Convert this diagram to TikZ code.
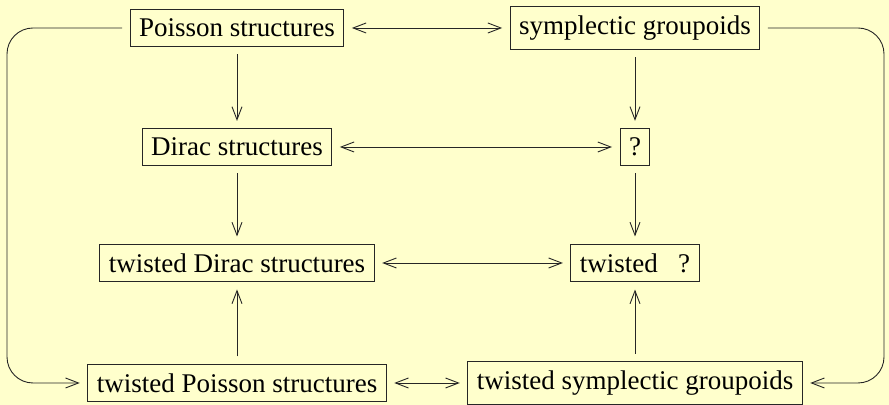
\documentclass[tikz,border=0pt]{standalone}
\usepackage{fontspec}
\setmainfont{Liberation Serif}
\usetikzlibrary{arrows.meta,positioning}
\definecolor{paper}{RGB}{255,255,204}
\tikzset{
  box/.style={draw=black!85, line width=0.5pt, inner sep=4.5pt, outer sep=4pt,
    font=\fontsize{13.5}{16}\selectfont},
  arrow/.style={-{Straight Barb[length=6.5pt,width=5pt]}, line width=0.45pt, draw=black!85},
  biarrow/.style={{Straight Barb[length=6.5pt,width=5pt]}-{Straight Barb[length=6.5pt,width=5pt]},
    line width=0.45pt, draw=black!85},
  rail/.style={arrow, rounded corners=13pt},
}

\begin{document}
\begin{tikzpicture}[x=0.5pt,y=0.5pt]
  \fill[paper] (0,0) rectangle (889,405);
  \useasboundingbox (0,0) rectangle (889,405);

  % left column
  \node[box] (poi)  at (237,377) {Poisson structures};
  \node[box] (dir)  at (237,258) {Dirac structures};
  \node[box] (tdir) at (237,142) {twisted Dirac structures};
  \node[box] (tpoi) at (237,22)  {twisted Poisson structures};

  % right column
  \node[box] (sgr)  at (635,377) {symplectic groupoids};
  \node[box] (unk)  at (635,258) {?};
  \node[box] (tunk) at (635,142) {twisted\ \ \ ?};
  \node[box] (tsgr) at (635,22)  {twisted symplectic groupoids};

  \coordinate (lrail) at (7,200);
  \coordinate (rrail) at (884,200);

  % rows
  \draw[biarrow] (poi) -- (sgr);
  \draw[biarrow] (dir) -- (unk);
  \draw[biarrow] (tdir) -- (tunk);
  \draw[biarrow] (tpoi) -- (tsgr);

  % columns
  \draw[arrow] (poi) -- (dir);
  \draw[arrow] (dir) -- (tdir);
  \draw[arrow] (tpoi) -- (tdir);
  \draw[arrow] (sgr) -- (unk);
  \draw[arrow] (unk) -- (tunk);
  \draw[arrow] (tsgr) -- (tunk);

  % outer loops
  \draw[rail] (poi.west) -| (lrail) |- (tpoi.west);
  \draw[rail] (sgr.east) -| (rrail) |- (tsgr.east);
\end{tikzpicture}
\end{document}
